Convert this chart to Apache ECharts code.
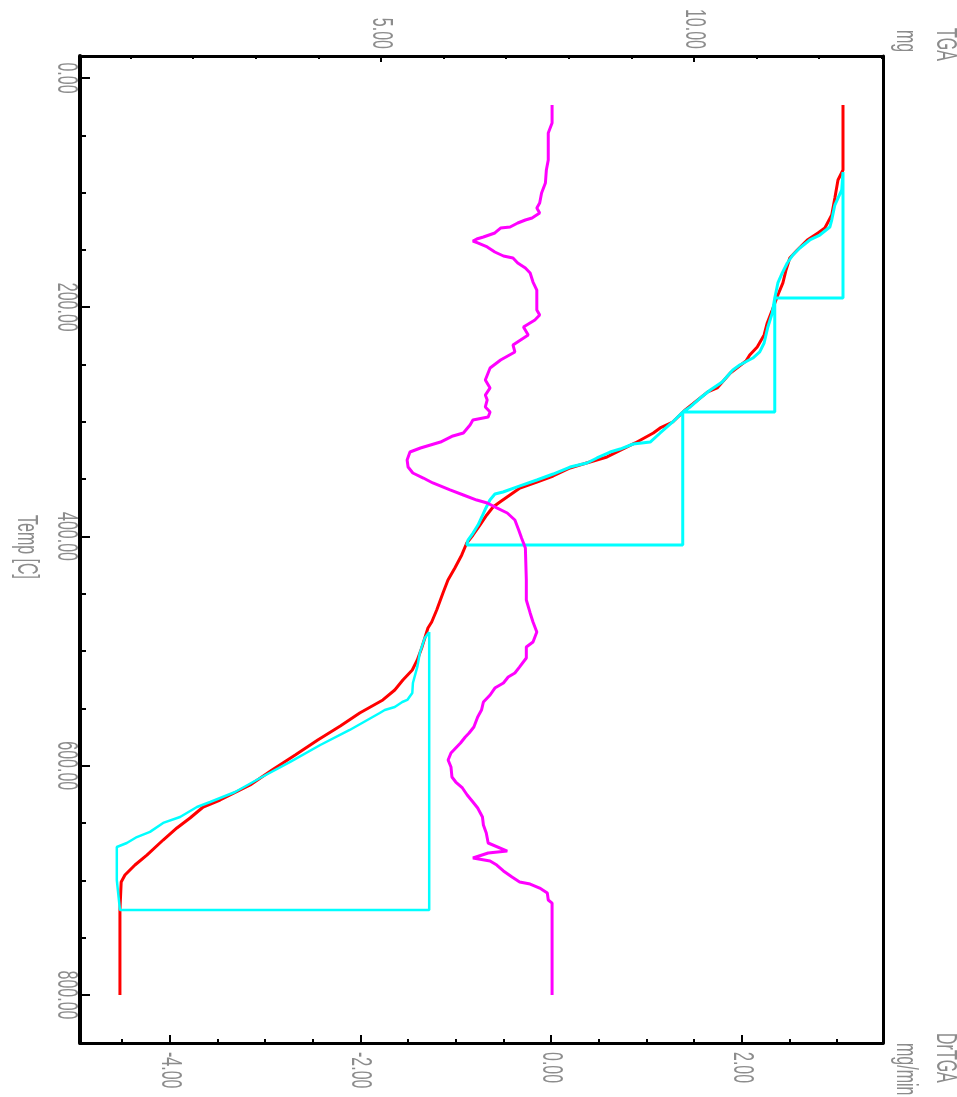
<!DOCTYPE html>
<html><head><meta charset="utf-8">
<script src="https://cdn.jsdelivr.net/npm/echarts@6.0.0/dist/echarts.min.js"></script>
<style>html,body{margin:0;padding:0;background:#fff}#chart{width:957px;height:1097px}</style>
</head><body><div id="chart"></div>
<script>
// ---- data (Temp in C, TGA in mg, DrTGA in mg/min) ----
const tempTicks = [0, 200, 400, 600, 800];
const tempMinorTicks = [0,50,100,150,200,250,300,350,400,450,500,550,600,650,700,750,800];
const tgaTicks = [5, 10];
const tgaMinorTicks = [1,2,3,4,5,6,7,8,9,10,11,12,13];
const dtgTicks = [-4, -2, 0, 2];
const dtgMinorTicks = [-4.5,-4,-3.5,-3,-2.5,-2,-1.5,-1,-0.5,0,0.5,1,1.5,2,2.5,3];

const redTemp = [23.6,80.3,89.0,104.7,119.5,130.9,135.2,141.3,150.1,157.0,167.5,178.8,189.3,202.4,213.7,224.2,234.7,241.7,246.9,257.4,270.4,273.9,284.4,289.6,300.1,305.3,309.7,318.4,330.6,336.8,340.2,347.2,352.5,357.7,363.8,369.9,374.3,381.2,390.0,398.7,405.7,416.1,427.5,438.0,449.3,464.1,474.6,479.8,497.3,507.7,516.5,525.2,533.9,542.6,554.0,565.3,577.5,590.6,603.7,616.8,629.9,636.0,645.6,654.3,664.8,677.9,686.6,695.3,701.4,725.8,800.0];
const redMass = [12.38,12.38,12.30,12.25,12.20,12.09,11.98,11.81,11.65,11.53,11.47,11.42,11.34,11.25,11.17,11.12,11.01,10.89,10.83,10.58,10.37,10.22,9.98,9.86,9.66,9.46,9.35,9.06,8.61,8.23,8.02,7.75,7.49,7.22,7.06,6.90,6.79,6.69,6.58,6.47,6.37,6.29,6.18,6.07,5.99,5.89,5.81,5.75,5.65,5.58,5.50,5.35,5.22,5.03,4.66,4.35,3.99,3.63,3.26,2.91,2.43,2.16,1.95,1.74,1.52,1.26,1.07,0.91,0.85,0.83,0.83];

const step1Temp = [82.0,97.7,110.8,123.9,130.0,137.0,141.3,148.3,154.4,161.4,170.1,178.8,191.9];
const step1Mass = [12.38,12.36,12.25,12.20,12.17,12.01,11.85,11.69,11.58,11.49,11.41,11.34,11.29];
const step2Temp = [191.9,205.0,217.2,231.2,239.0,244.3,250.4,254.7,265.2,272.2,279.2,287.0,291.4];
const step2Mass = [11.29,11.25,11.18,11.12,11.05,10.94,10.73,10.62,10.45,10.26,10.10,9.94,9.82];
const step3Temp = [291.4,300.1,309.7,317.6,319.3,323.7,326.3,331.5,335.9,339.4,345.5,350.7,355.9,361.2,362.9,368.2,376.9,383.0,390.0,397.0,403.1,407.4];
const step3Mass = [9.82,9.66,9.46,9.30,9.03,8.82,8.66,8.45,8.29,8.02,7.75,7.49,7.22,6.95,6.82,6.74,6.66,6.61,6.55,6.47,6.39,6.37];
const step4Temp = [483.3,488.5,501.6,513.8,527.8,536.5,542.6,544.4,548.7,551.4,554.0,568.8,581.9,596.7,610.7,622.9,631.6,636.0,644.7,649.9,657.7,662.2,667.4,670.9,699.7,725.8];
const step4Mass = [5.77,5.70,5.62,5.58,5.51,5.50,5.42,5.34,5.22,5.06,4.98,4.50,4.03,3.55,3.07,2.67,2.27,2.06,1.79,1.52,1.31,1.10,0.94,0.78,0.78,0.83];

const dtgTemp = [23.6,39.3,48.0,71.5,80.3,91.6,100.3,109.1,113.4,117.8,122.1,123.9,126.5,130.0,130.9,135.2,138.7,140.5,142.2,143.9,147.4,151.8,155.3,157.0,161.4,165.8,170.1,178.0,185.0,202.4,206.8,211.1,217.2,224.2,232.9,239.0,246.0,253.0,263.5,270.4,276.6,280.9,287.0,291.4,295.7,298.4,302.7,309.7,312.3,317.6,321.0,322.8,326.3,333.3,339.4,344.6,349.0,353.3,359.4,363.8,368.2,370.8,375.1,379.5,385.6,394.3,401.3,410.0,437.9,455.4,466.7,474.6,483.3,492.0,496.4,506.0,513.8,519.1,522.6,527.8,532.2,538.3,544.4,551.4,557.5,566.2,571.4,574.9,580.2,585.4,588.9,595.0,601.1,609.8,614.2,619.4,625.5,631.6,636.9,644.7,651.7,658.7,667.4,674.4,676.1,680.5,683.1,686.6,691.8,697.1,701.4,703.2,706.7,711.0,717.1,719.8,800.0];
const dtgRate = [0.01,0.01,-0.03,-0.03,-0.05,-0.06,-0.10,-0.12,-0.15,-0.12,-0.20,-0.27,-0.35,-0.43,-0.53,-0.59,-0.71,-0.78,-0.82,-0.77,-0.67,-0.59,-0.50,-0.40,-0.35,-0.27,-0.22,-0.19,-0.15,-0.15,-0.12,-0.17,-0.29,-0.24,-0.40,-0.38,-0.53,-0.64,-0.69,-0.64,-0.69,-0.67,-0.69,-0.64,-0.66,-0.82,-0.85,-0.92,-1.03,-1.16,-1.30,-1.37,-1.48,-1.51,-1.50,-1.45,-1.34,-1.24,-1.06,-0.92,-0.78,-0.67,-0.57,-0.46,-0.38,-0.34,-0.31,-0.27,-0.26,-0.26,-0.22,-0.19,-0.15,-0.19,-0.26,-0.26,-0.33,-0.38,-0.45,-0.50,-0.59,-0.64,-0.71,-0.73,-0.77,-0.81,-0.86,-0.90,-0.95,-1.01,-1.05,-1.08,-1.05,-1.04,-1.00,-0.93,-0.88,-0.82,-0.77,-0.72,-0.71,-0.68,-0.66,-0.46,-0.66,-0.82,-0.64,-0.57,-0.50,-0.41,-0.33,-0.22,-0.12,-0.04,-0.03,0.01,0.01];

// ---- build ----
const TEMP_MIN = -19.19, TEMP_MAX = 841.88;
const TGA_MIN = 0.192, TGA_MAX = 13.019;
const DTG_MIN = -4.94, DTG_MAX = 3.48;

function pairs(vals, temps) { return temps.map((t, i) => [vals[i], t]); }
function stepPath(temps, mass) {
  const p = pairs(mass, temps);
  p.push([mass[0], temps[temps.length - 1]]);
  p.push([mass[0], temps[0]]);
  return p;
}

const grey = '#8c8c8c';
const FONT = "16px 'Liberation Sans', Arial, sans-serif";
const STRETCH = 1.8;
const fmt = v => Number(v).toFixed(2);
const black = '#000';

function hAxis(pos, min, max, ticks, len, lineW) {
  return {
    type: 'value', position: pos, min: min, max: max,
    axisLine: { show: lineW > 0, onZero: false, lineStyle: { color: black, width: lineW } },
    axisTick: { show: true, inside: true, length: len, customValues: ticks, lineStyle: { color: black, width: 2 } },
    axisLabel: { show: false },
    splitLine: { show: false }
  };
}
function vAxis(pos, ticks, len, lineW) {
  return {
    type: 'value', position: pos, inverse: true, min: TEMP_MIN, max: TEMP_MAX,
    axisLine: { show: lineW > 0, onZero: false, lineStyle: { color: black, width: lineW } },
    axisTick: { show: !!ticks, inside: true, length: len, customValues: ticks || [], lineStyle: { color: black, width: 2 } },
    axisLabel: { show: false },
    splitLine: { show: false }
  };
}

function lineSeries(name, data, xi, color, width, z) {
  return { name: name, type: 'line', xAxisIndex: xi, yAxisIndex: 0, data: data, showSymbol: false, symbol: 'none',
    lineStyle: { color: color, width: width }, itemStyle: { color: color }, z: z, silent: true, animation: false };
}
// vertical (rotated clockwise) text, stretched like the source bitmap font
const txt = (t, x, y, align, vAlign) => ({ type: 'text', x: x, y: y, rotation: -Math.PI / 2, scaleY: STRETCH, silent: true,
  style: { text: t, fill: grey, font: FONT, align: align, textAlign: align, verticalAlign: vAlign || 'middle', textVerticalAlign: vAlign || 'middle' } });

const chart = echarts.init(document.getElementById('chart'), null, { renderer: 'canvas' });
chart.setOption({
  animation: false,
  backgroundColor: '#fff',
  grid: { left: 80, right: 74, top: 56, bottom: 54, containLabel: false, outerBoundsMode: 'none' },
  xAxis: [
    hAxis('top', TGA_MIN, TGA_MAX, tgaTicks, 6, 3),
    hAxis('top', TGA_MIN, TGA_MAX, tgaMinorTicks, 3, 0),
    hAxis('bottom', DTG_MIN, DTG_MAX, dtgTicks, 8, 3),
    hAxis('bottom', DTG_MIN, DTG_MAX, dtgMinorTicks, 4, 0)
  ],
  yAxis: [
    vAxis('left', tempTicks, 10, 4),
    vAxis('left', tempMinorTicks, 6, 0),
    vAxis('right', null, 0, 3)
  ],
  series: [
    lineSeries('TGA', pairs(redMass, redTemp), 0, '#ff0000', 3, 2),
    lineSeries('Step 1', stepPath(step1Temp, step1Mass), 0, '#00ffff', 3, 3),
    lineSeries('Step 2', stepPath(step2Temp, step2Mass), 0, '#00ffff', 3, 3),
    lineSeries('Step 3', stepPath(step3Temp, step3Mass), 0, '#00ffff', 3, 3),
    lineSeries('Step 4', stepPath(step4Temp, step4Mass), 0, '#00ffff', 2.5, 3),
    lineSeries('DrTGA', pairs(dtgRate, dtgTemp), 2, '#ff00ff', 3, 4)
  ]
});

// tick labels placed with the axes' own scales
const g = [];
tempTicks.forEach(v => g.push(txt(fmt(v), 66, chart.convertToPixel({ yAxisIndex: 0 }, v), 'center')));
tgaTicks.forEach(v => g.push(txt(fmt(v), chart.convertToPixel({ xAxisIndex: 0 }, v), 49, 'right')));
dtgTicks.forEach(v => g.push(txt(fmt(v), chart.convertToPixel({ xAxisIndex: 2 }, v), 1052, 'left')));
g.push(txt('Temp [C]', 26, 547, 'center'));
g.push(txt('TGA', 945, 28, 'left'));
g.push(txt('mg', 905, 30, 'left'));
g.push(txt('DrTGA', 945, 1033, 'left'));
g.push(txt('mg/min', 905, 1043, 'left'));
chart.setOption({ graphic: g });
</script></body></html>
